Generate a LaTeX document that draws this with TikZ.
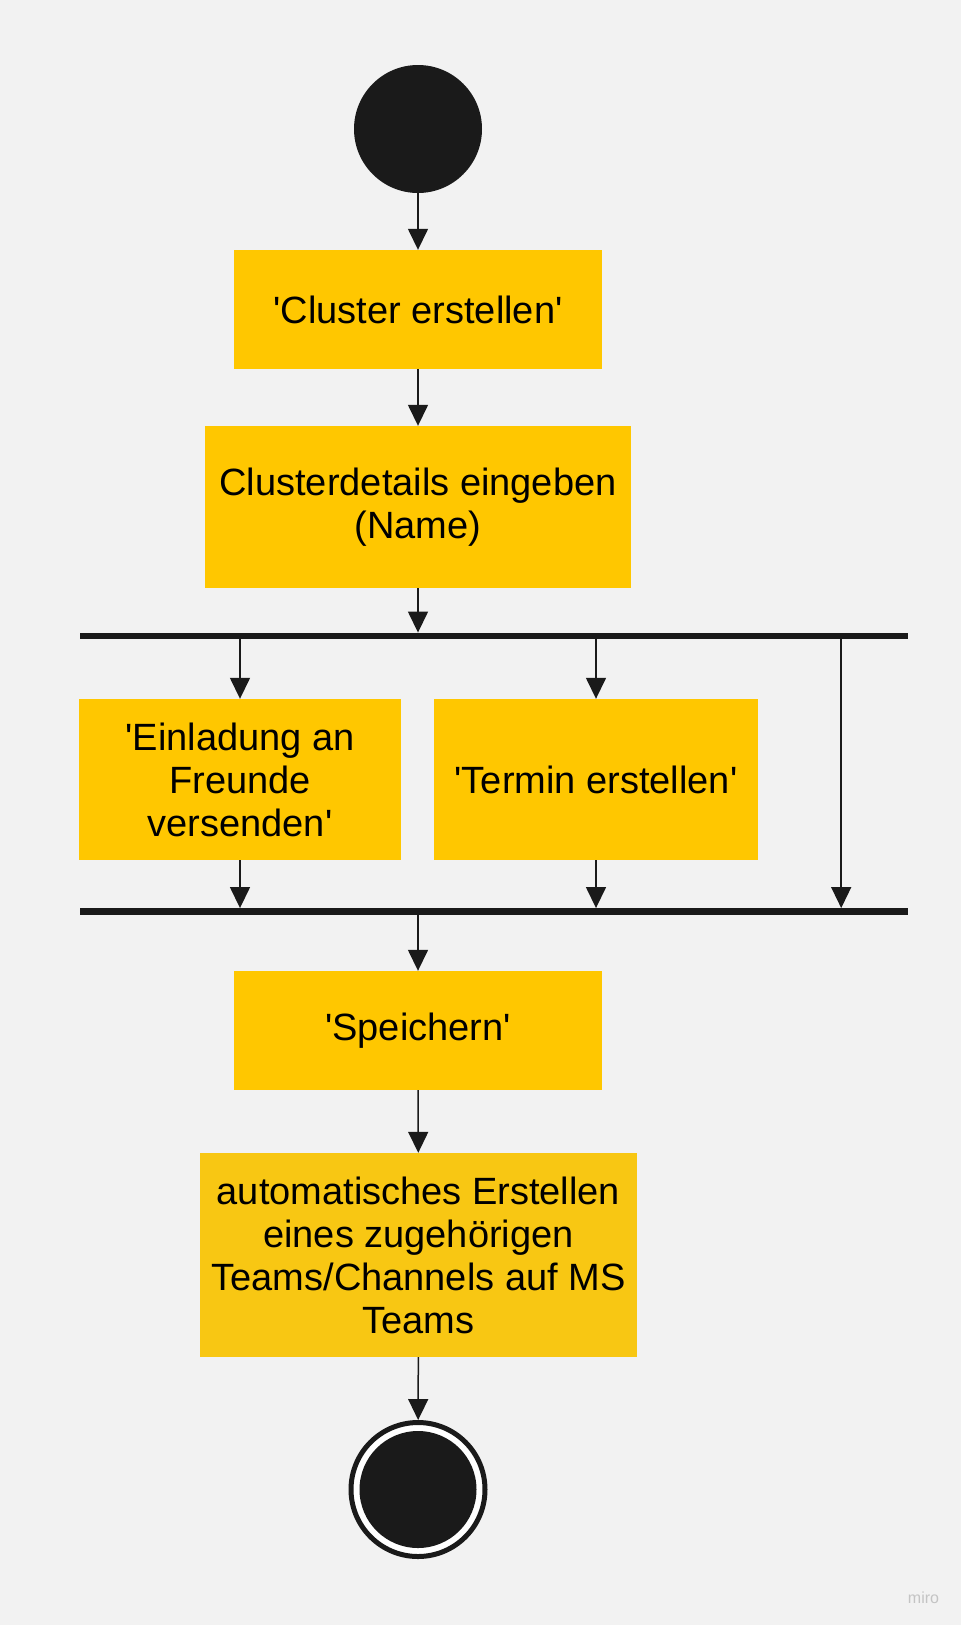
\documentclass[tikz,border=0pt]{standalone}
\usepackage{fontspec}
\setmainfont{Liberation Sans}[Ligatures=TeXReset]
\usetikzlibrary{arrows.meta}
\definecolor{bg}{HTML}{F2F2F2}
\definecolor{dark}{HTML}{1A1A1A}
\definecolor{sticky}{HTML}{FFC700}
\definecolor{stickylast}{HTML}{F8C713}
\definecolor{mirogray}{HTML}{C4C4C4}
\begin{document}
\begin{tikzpicture}[x=1pt,y=-1pt,
  action/.style={rectangle,fill=sticky,inner sep=0pt,align=center,text=black,
    font=\fontsize{38}{43}\selectfont},
  bar/.style={rectangle,fill=dark,inner sep=0pt,minimum width=828pt,minimum height=6.5pt},
  flow/.style={draw=dark,line width=1.5pt,-{Triangle[length=21pt,width=20pt]}}]
% Background
\fill[bg] (0,0) rectangle (961,1625);
\useasboundingbox (0,0) rectangle (961,1625);
% Start node
\node[circle,fill=dark,minimum size=128pt,inner sep=0pt] (start) at (418,129) {};
% Actions
\node[action,minimum width=368pt,minimum height=119pt] (create) at (418,309.5) {'Cluster erstellen'};
\node[action,minimum width=426pt,minimum height=162pt] (details) at (418,507) {Clusterdetails eingeben\\(Name)};
\node[bar] (fork) at (494,636) {};
\node[action,minimum width=322pt,minimum height=161pt] (invite) at (240,779.5) {'Einladung an\\Freunde\\versenden'};
\node[action,minimum width=324pt,minimum height=161pt] (date) at (596,779.5) {'Termin erstellen'};
\node[bar] (join) at (494,911.5) {};
\node[action,minimum width=368pt,minimum height=119pt] (save) at (418,1030.5) {'Speichern'};
\node[action,fill=stickylast,minimum width=437pt,minimum height=204pt] (teams) at (418.5,1255) {automatisches Erstellen\\eines zugehörigen\\Teams/Channels auf MS\\Teams};
% End node
\node[circle,draw=dark,line width=5pt,fill=white,minimum size=134pt,inner sep=0pt] (stop) at (418,1489.5) {};
\fill[dark] (stop.center) circle [radius=58.5pt];
% Draw flows
\draw[flow] (start) -- (create);
\draw[flow] (create) -- (details);
\draw[flow] (details) -- (details |- fork.north);
\draw[flow] (invite |- fork.south) -- (invite);
\draw[flow] (date |- fork.south) -- (date);
\draw[flow] ([xshift=-67pt]fork.south east) -- ([xshift=-67pt]join.north east);
\draw[flow] (invite) -- (invite |- join.north);
\draw[flow] (date) -- (date |- join.north);
\draw[flow] (save |- join.south) -- (save);
\draw[flow] (save) -- (teams);
\draw[flow] (teams) -- (stop);
% Watermark
\node[text=mirogray,font=\fontsize{16}{16}\selectfont] (miro) at (923.5,1598) {miro};
\end{tikzpicture}
\end{document}
